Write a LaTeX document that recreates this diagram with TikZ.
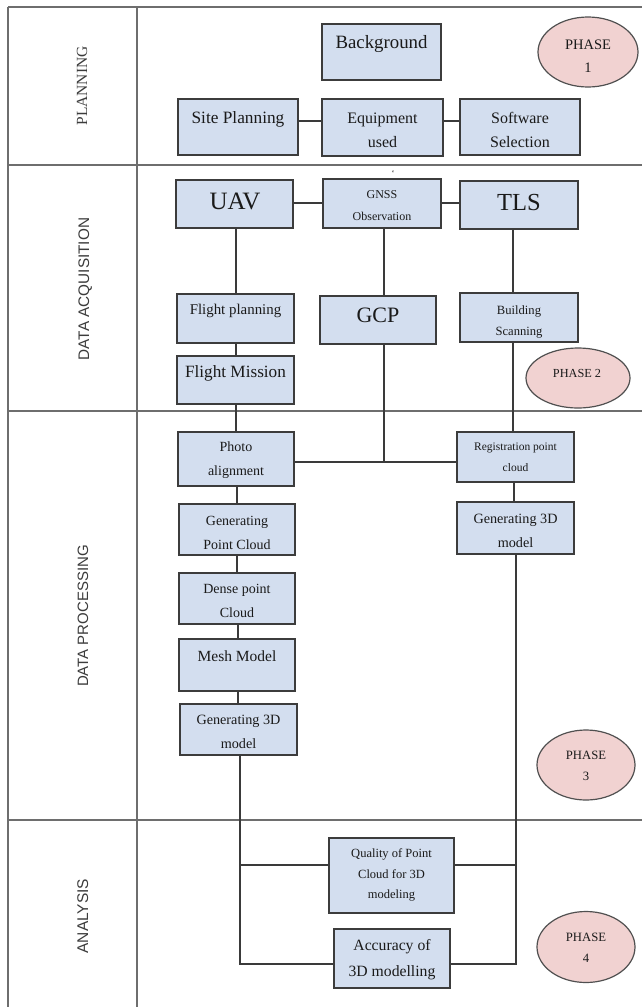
\documentclass[tikz,border=0pt]{standalone}
\usepackage{fontspec}
\setmainfont{Liberation Serif}
\newfontfamily\lanesf{Liberation Sans}
\usetikzlibrary{shapes.geometric}
\newcommand{\myfs}[1]{\fontsize{#1}{#1}\selectfont}
\definecolor{boxfill}{HTML}{D3DEEF}
\definecolor{boxline}{HTML}{3C3C3C}
\definecolor{phfill}{HTML}{F1D2D1}
\definecolor{phline}{HTML}{505050}
\definecolor{laneline}{HTML}{6E6E6E}
\definecolor{conncol}{HTML}{3A3A3A}
\definecolor{txtcol}{HTML}{1A1A1A}
\newcommand{\mkbox}[5]{\node[box, minimum width={(#4-#2)*1pt}, minimum height={(#5-#3)*1pt}] (#1) at ({(#2+#4)/2},{(#3+#5)/2}) {};}
\newcommand{\mktxt}[5]{\node[txt, font=\myfs{#4}] (#1) at (#2,#3) {#5};}
\begin{document}
\begin{tikzpicture}[x=1pt,y=-1pt,
  box/.style={draw=boxline, fill=boxfill, line width=1.4pt, rectangle, inner sep=0pt},
  phase/.style={draw=phline, fill=phfill, line width=1.2pt, ellipse, inner sep=0pt},
  txt/.style={anchor=base, inner sep=0pt, text=txtcol},
  lanelbl/.style={anchor=base, inner sep=0pt, rotate=90, text=txtcol!85!white},
  lane/.style={draw=laneline, line width=1.3pt},
  conn/.style={draw=conncol, line width=1.1pt}]
\fill[white] (0,0) rectangle (642,1007);
\useasboundingbox (0,0) rectangle (642,1007);
% lanes
\draw[lane] (8,7) -- (642,7);
\draw[lane] (8,7) -- (8,1007);
\draw[lane] (137,7) -- (137,1007);
\draw[lane] (8,165) -- (642,165);
\draw[lane] (8,411) -- (642,411);
\draw[lane] (8,820) -- (642,820);
\node[lanelbl, font=\myfs{15.5}] (lPlan) at (87,86) {PLANNING};
\node[lanelbl, font=\lanesf\myfs{15.3}] (lAcq) at (89,289) {DATA ACQUISITION};
\node[lanelbl, font=\lanesf\myfs{15}] (lProc) at (88,616) {DATA PROCESSING};
\node[lanelbl, font=\lanesf\myfs{15.5}] (lAna) at (88,916) {ANALYSIS};
% boxes
\mkbox{bg}{322}{24}{441}{80}
\mkbox{site}{178}{99}{298}{155}
\mkbox{equip}{322}{99}{443}{156}
\mkbox{soft}{460}{99}{580}{155}
\mkbox{uav}{176}{180}{293}{228}
\mkbox{gnss}{323}{179}{441}{228}
\mkbox{tls}{460}{181}{578}{229}
\mkbox{fplan}{177}{294}{294}{343}
\mkbox{gcp}{320}{296}{436}{344}
\mkbox{bscan}{460}{293}{578}{342}
\mkbox{fmis}{177}{356}{294}{404}
\mkbox{photo}{178}{432}{294}{486}
\mkbox{reg}{457}{432}{574}{482}
\mkbox{gpc}{179}{504}{295}{555}
\mkbox{dense}{179}{573}{295}{624}
\mkbox{mesh}{179}{639}{295}{691}
\mkbox{gtdl}{180}{704}{297}{755}
\mkbox{gtdr}{457}{502}{574}{554}
\mkbox{qual}{329}{838}{454}{913}
\mkbox{acc}{334}{929}{450}{988}
% phases
\node[phase, minimum width=100pt, minimum height=70pt] (ph1) at (588,52) {};
\node[phase, minimum width=104pt, minimum height=60pt] (ph2) at (578,378) {};
\node[phase, minimum width=98pt, minimum height=70pt] (ph3) at (586,765) {};
\node[phase, minimum width=98pt, minimum height=71pt] (ph4) at (586,947) {};
% texts
\mktxt{bgT}{381.5}{48.7}{18.8}{Background}
\mktxt{siteT}{238}{123}{17.3}{Site Planning}
\mktxt{equipTa}{382.5}{123}{16}{Equipment}
\mktxt{equipTb}{382.5}{147}{16}{used}
\mktxt{softTa}{520}{123}{16}{Software}
\mktxt{softTb}{520}{147}{16}{Selection}
\mktxt{phTa}{588}{49.3}{14.5}{PHASE}
\mktxt{phTb}{588}{72}{14.5}{1}
\node[txt, anchor=center, font=\myfs{9}] (tick) at (393,173) {`};
\mktxt{uavT}{235}{209.3}{25}{UAV}
\mktxt{gnssTa}{382}{198.3}{12}{GNSS}
\mktxt{gnssTb}{382}{220}{12}{Observation}
\mktxt{tlsT}{519}{210}{24.5}{TLS}
\mktxt{fplanT}{235.5}{314}{14.9}{Flight planning}
\mktxt{gcpT}{378}{322}{22}{GCP}
\mktxt{bscanTa}{519}{314}{12.6}{Building}
\mktxt{bscanTb}{519}{335}{12.6}{Scanning}
\mktxt{fmisT}{235.5}{377}{17.2}{Flight Mission}
\mktxt{ph2T}{577}{377}{12.3}{PHASE 2}
\mktxt{photoTa}{236}{451.5}{14}{Photo}
\mktxt{photoTb}{236}{475}{14}{alignment}
\mktxt{regTa}{515.5}{450}{11.5}{Registration point}
\mktxt{regTb}{515.5}{471.7}{11.5}{cloud}
\mktxt{gpcTa}{237}{525}{14}{Generating}
\mktxt{gpcTb}{237}{549}{14}{Point Cloud}
\mktxt{denseTa}{237}{593}{14}{Dense point}
\mktxt{denseTb}{237}{617}{14}{Cloud}
\mktxt{meshT}{237}{661.7}{15.5}{Mesh Model}
\mktxt{gtdlTa}{238.5}{724}{14.2}{Generating 3D}
\mktxt{gtdlTb}{238.5}{748}{14.2}{model}
\mktxt{gtdrTa}{515.5}{523}{14.2}{Generating 3D}
\mktxt{gtdrTb}{515.5}{547}{14.2}{model}
\mktxt{ph3Ta}{586}{759}{12.7}{PHASE}
\mktxt{ph3Tb}{586}{780}{12.7}{3}
\mktxt{qualTa}{391.5}{857}{12.5}{Quality of Point}
\mktxt{qualTb}{391.5}{878}{12.5}{Cloud for 3D}
\mktxt{qualTc}{391.5}{898}{12.5}{modeling}
\mktxt{accTa}{392}{950.5}{15.7}{Accuracy of}
\mktxt{accTb}{392}{976.7}{15.7}{3D modelling}
\mktxt{ph4Ta}{586}{941.7}{12.7}{PHASE}
\mktxt{ph4Tb}{586}{962.7}{12.7}{4}
% connectors
\coordinate (j) at (384,462);
\coordinate (ql) at (240,865);
\coordinate (qr) at (516,865);
\draw[conn] (site.east |- 0,121) -- (equip.west |- 0,121);
\draw[conn] (equip.east |- 0,121) -- (soft.west |- 0,121);
\draw[conn] (uav.east |- 0,203) -- (gnss.west |- 0,203);
\draw[conn] (gnss.east |- 0,203) -- (tls.west |- 0,203);
\draw[conn] (uav.south -| 236,0) -- (fplan.north -| 236,0);
\draw[conn] (fplan.south -| 236,0) -- (fmis.north -| 236,0);
\draw[conn] (fmis.south -| 236,0) -- (photo.north -| 236,0);
\draw[conn] (gnss.south -| 384,0) -- (gcp.north -| 384,0);
\draw[conn] (gcp.south -| 384,0) -- (j);
\draw[conn] (photo.east |- j) -- (reg.west |- j);
\draw[conn] (tls.south -| 513,0) -- (bscan.north -| 513,0);
\draw[conn] (bscan.south -| 513,0) -- (reg.north -| 513,0);
\draw[conn] (reg.south -| 514,0) -- (gtdr.north -| 514,0);
\draw[conn] (photo.south -| 237,0) -- (gpc.north -| 237,0);
\draw[conn] (gpc.south -| 237,0) -- (dense.north -| 237,0);
\draw[conn] (dense.south -| 238,0) -- (mesh.north -| 238,0);
\draw[conn] (mesh.south -| 238,0) -- (gtdl.north -| 238,0);
\draw[conn] (gtdl.south -| 240,0) |- (acc.west |- 0,964);
\draw[conn] (gtdr.south -| 516,0) |- (acc.east |- 0,964);
\draw[conn] (ql) -- (qual.west |- ql);
\draw[conn] (qr) -- (qual.east |- qr);
\end{tikzpicture}
\end{document}
